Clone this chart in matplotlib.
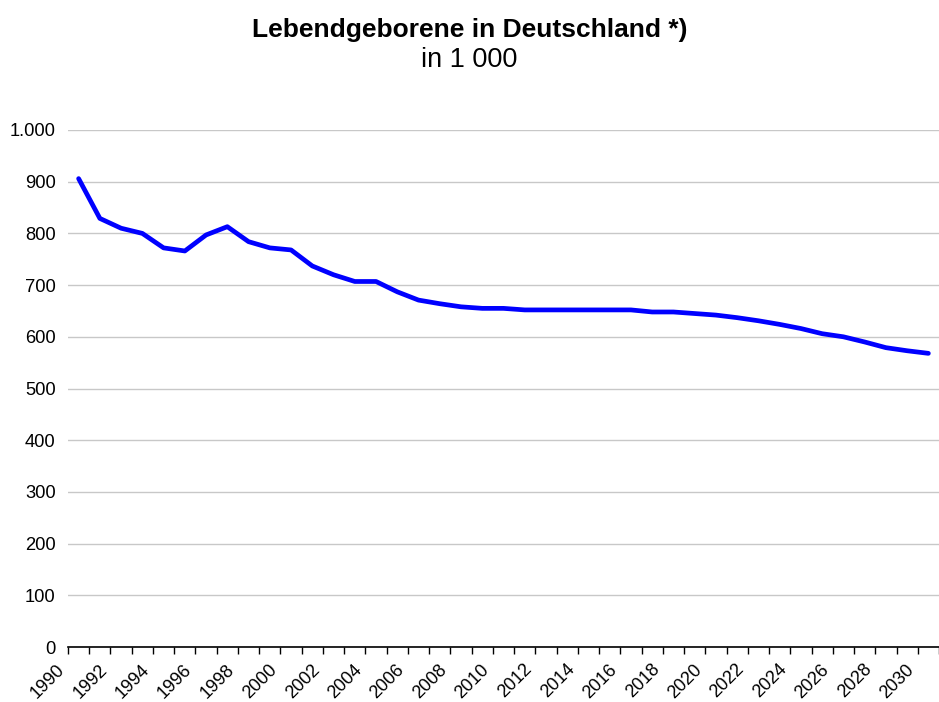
import matplotlib
matplotlib.use("Agg")
import matplotlib.pyplot as plt
import numpy as np

plt.rcParams['font.family'] = ['Liberation Sans', 'DejaVu Sans']

# Lebendgeborene in 1 000 (ab 2006 Vorausberechnung)
years = list(range(1990, 2031))
births = [906, 829, 810, 800, 772, 766, 797, 813, 784, 772,
          768, 737, 720, 707, 707, 687, 671, 664, 658, 655,
          655, 652, 652, 652, 652, 652, 652, 648, 648, 645,
          642, 637, 631, 624, 616, 606, 600, 590, 579, 573,
          568]
y_ticks = list(range(0, 1001, 100))
y_labels = ["0", "100", "200", "300", "400", "500", "600", "700", "800", "900", "1.000"]

fig = plt.figure(figsize=(9.39, 7.02), dpi=100)
ax = fig.add_axes([68/939, 1 - 647/702, (939 - 68)/939, (647 - 130)/702])

ax.plot(years, births, color="#0000ff", lw=3.4, solid_capstyle="round", solid_joinstyle="round", zorder=3)

ax.set_xlim(years[0] - 0.5, years[-1] + 0.5)
ax.set_ylim(0, 1000)
ax.set_yticks(y_ticks)
ax.set_yticklabels(y_labels)
ax.tick_params(axis="y", length=0, pad=9, labelsize=13.2)
ax.yaxis.grid(True, color="#c8c8c8", lw=1)
ax.set_axisbelow(True)

# ticks sit between the years, labels for every second year
bounds = np.arange(years[0] - 0.5, years[-1] + 1.0, 1.0)
ax.set_xticks(bounds[:-1:2])
ax.set_xticklabels([str(y) for y in years[::2]], rotation=45, ha="right")
ax.set_xticks(bounds, minor=True)
ax.tick_params(axis="x", which="both", direction="out", length=5, width=1, color="black")
ax.tick_params(axis="x", which="major", pad=5, labelsize=13)

for s in ["left", "right", "top"]:
    ax.spines[s].set_visible(False)
ax.spines["bottom"].set_color("black")
ax.spines["bottom"].set_linewidth(1.2)

fig.text(0.5, 1 - 30/702, "Lebendgeborene in Deutschland *)", ha="center", va="center",
         fontsize=19, fontweight="bold")
fig.text(0.5, 1 - 60/702, "in 1 000", ha="center", va="center", fontsize=19.5)

fig.savefig("out.png", dpi=100)
